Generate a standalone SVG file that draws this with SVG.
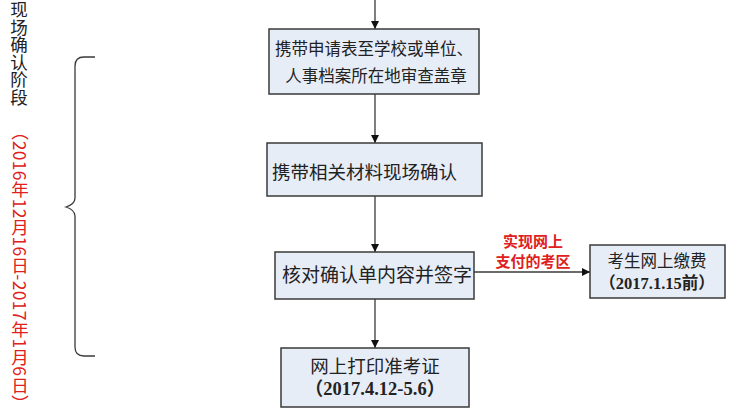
<svg xmlns="http://www.w3.org/2000/svg" width="735" height="415" viewBox="0 0 735 415">
<defs>
<style>
.box{fill:#e7edf7;stroke:#3a3a3a;stroke-width:1.5}
.t{font-family:"Noto Sans CJK SC","Noto Sans",sans-serif;fill:#222;dominant-baseline:central}
.b{font-family:"Liberation Serif","Noto Sans CJK SC",serif;font-weight:bold;fill:#222;dominant-baseline:central}
.red{font-family:"Noto Sans CJK SC",sans-serif;font-weight:bold;fill:#e02020;font-size:15px;dominant-baseline:central}
.ln{stroke:#3a3a3a;stroke-width:1.3;fill:none}
</style>
<marker id="ah" viewBox="0 0 10 10" refX="10" refY="5" markerWidth="8" markerHeight="8" markerUnits="userSpaceOnUse" orient="auto">
<path d="M0,0 L10,5 L0,10 z" fill="#111"/>
</marker>
</defs>
<rect width="735" height="415" fill="#fff"/>
<g id="side">
<text class="t" x="19" y="1" font-size="17.5" writing-mode="tb">现场确认阶段</text>
<text x="20" y="123" font-size="17.5" letter-spacing="0.3" writing-mode="tb" style="font-family:'Noto Sans CJK SC',sans-serif;fill:#e02020">（2016年12月16日-2017年1月6日）</text>
<path class="ln" d="M95,57 L84,57 Q75,57 75,66 L75,198 Q75,204 66,207 Q75,210 75,216 L75,347 Q75,356 84,356 L95,356"/>
</g>
<g id="connectors">
<line class="ln" x1="375" y1="0" x2="375" y2="29" marker-end="url(#ah)"/>
<line class="ln" x1="375" y1="94" x2="375" y2="143" marker-end="url(#ah)"/>
<line class="ln" x1="375" y1="196" x2="375" y2="252" marker-end="url(#ah)"/>
<line class="ln" x1="375" y1="299" x2="375" y2="348" marker-end="url(#ah)"/>
<line class="ln" x1="474" y1="272" x2="590" y2="272" marker-end="url(#ah)"/>
<text class="red" x="533" y="240" text-anchor="middle">实现网上</text>
<text class="red" x="533" y="260" text-anchor="middle">支付的考区</text>
</g>
<g id="n1">
<rect class="box" x="269" y="29" width="210" height="65"/>
<text class="t" x="374" y="48" font-size="16.5" text-anchor="middle">携带申请表至学校或单位、</text>
<text class="t" x="376" y="75" font-size="16.5" text-anchor="middle">人事档案所在地审查盖章</text>
</g>
<g id="n2">
<rect class="box" x="267" y="143" width="215" height="53"/>
<text class="t" x="272" y="171" font-size="18.5">携带相关材料现场确认</text>
</g>
<g id="n3">
<rect class="box" x="275" y="252" width="199" height="47"/>
<text class="t" x="377" y="273" font-size="19" text-anchor="middle">核对确认单内容并签字</text>
</g>
<g id="n4">
<rect class="box" x="590" y="245" width="135" height="53"/>
<text class="t" x="657" y="260" font-size="16.5" text-anchor="middle">考生网上缴费</text>
<text class="b" x="657" y="283" font-size="16.5" text-anchor="middle">（2017.1.15前）</text>
</g>
<g id="n5">
<rect class="box" x="281" y="348" width="188" height="59"/>
<text class="t" x="375" y="365" font-size="18.5" text-anchor="middle">网上打印准考证</text>
<text class="b" x="375" y="389" font-size="18.5" text-anchor="middle">（2017.4.12-5.6）</text>
</g>
</svg>
